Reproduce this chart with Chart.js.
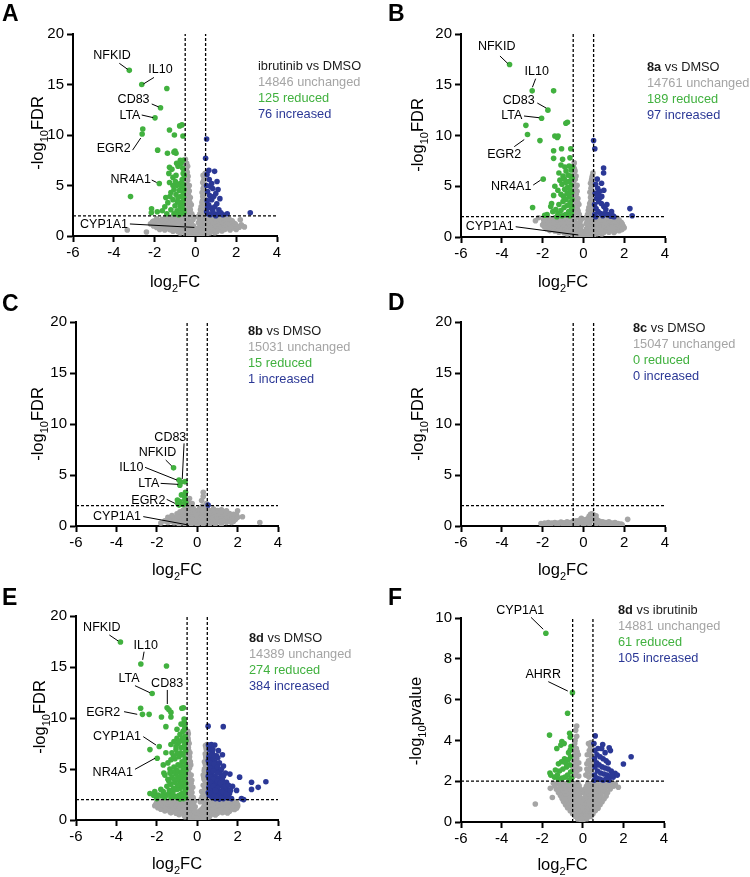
<!DOCTYPE html>
<html>
<head>
<meta charset="utf-8">
<script src="https://cdn.jsdelivr.net/npm/chart.js@4.4.0/dist/chart.umd.min.js"></script>
<style>
  body { margin: 0; background: #fff; width: 750px; height: 877px; position: relative; overflow: hidden; }
  canvas { position: absolute; }
</style>
</head>
<body>
<canvas id="pA" width="375" height="295" style="left:0;top:0"></canvas>
<canvas id="pB" width="375" height="295" style="left:375px;top:0"></canvas>
<canvas id="pC" width="375" height="295" style="left:0;top:290px"></canvas>
<canvas id="pD" width="375" height="295" style="left:375px;top:290px"></canvas>
<canvas id="pE" width="375" height="297" style="left:0;top:580px"></canvas>
<canvas id="pF" width="375" height="297" style="left:375px;top:580px"></canvas>
<script>
// ---- data ----
const panelIds = ['A', 'B', 'C', 'D', 'E', 'F'];
const treatment = ['ibrutinib', '8a', '8b', '8c', '8d', '8d'];
const boldTreatment = [false, true, true, true, true, true];
const control = ['DMSO', 'DMSO', 'DMSO', 'DMSO', 'DMSO', 'ibrutinib'];
const unchangedN = [14846, 14761, 15031, 15047, 14389, 14881];
const reducedN = [125, 189, 15, 0, 274, 61];
const increasedN = [76, 97, 1, 0, 384, 105];
const yMetric = ['FDR', 'FDR', 'FDR', 'FDR', 'FDR', 'pvalue'];
const yMax = [20, 20, 20, 20, 20, 10];
const yStep = [5, 5, 5, 5, 5, 2];
const xRange = [-6, 4];
const xStep = 2;
const fcCut = 0.5;   // |log2FC| threshold
const sigCut = 2;    // -log10 threshold

// points: flat lists of log2FC, -log10 value pairs
const grayA = [-0.45,0.15,-0.25,0.12,-0.05,0.1,0.15,0.12,0.35,0.16,0.55,0.2,
  -0.75,0.3,-0.5,0.28,-0.3,0.32,-0.1,0.27,0.05,0.3,0.25,0.28,0.45,0.31,0.7,0.29,0.95,0.33,
  -1.1,0.48,-0.85,0.42,-0.6,0.46,-0.35,0.4,-0.12,0.44,0.1,0.38,0.3,0.45,0.55,0.42,0.8,0.47,1.05,0.43,1.3,0.5,
  -1.75,0.65,-1.5,0.6,-1.25,0.63,-1.0,0.59,-0.75,0.64,-0.5,0.6,-0.25,0.62,0.0,0.58,0.22,0.63,0.45,0.6,0.7,0.64,0.95,0.6,1.2,0.62,1.45,0.66,1.7,0.6,2.0,0.65,
  -1.9,0.85,-1.6,0.78,-1.35,0.82,-1.1,0.76,-0.85,0.84,-0.6,0.79,-0.38,0.83,-0.18,0.77,0.15,0.8,0.35,0.76,0.6,0.84,0.85,0.79,1.1,0.82,1.35,0.77,1.6,0.83,1.9,0.8,2.15,0.86,
  -2.05,1.0,-1.8,0.96,-1.55,1.0,-1.25,0.97,-1.0,1.01,-0.75,0.96,-0.55,1.0,-0.35,0.98,0.25,0.97,0.48,1.01,0.72,0.96,0.98,1.0,1.22,0.97,1.5,1.01,1.75,0.98,2.05,0.95,
  -2.2,1.2,-1.95,1.12,-1.7,1.17,-1.45,1.13,-1.2,1.18,-0.95,1.12,-0.72,1.16,-0.5,1.14,-0.3,1.2,0.28,1.15,0.5,1.12,0.72,1.18,0.95,1.13,1.2,1.17,1.45,1.12,1.7,1.16,1.95,1.2,2.25,1.1,
  -2.1,1.33,-1.85,1.3,-1.6,1.35,-1.35,1.3,-1.1,1.34,-0.85,1.31,-0.62,1.35,-0.4,1.3,0.35,1.32,0.6,1.3,0.85,1.35,1.1,1.31,1.35,1.34,1.6,1.3,1.85,1.33,
  -2.05,1.48,-1.8,1.52,-1.55,1.46,-1.3,1.53,-1.05,1.47,-0.82,1.52,-0.6,1.49,-0.42,1.55,0.38,1.5,0.6,1.47,0.82,1.53,1.05,1.48,1.3,1.52,1.55,1.46,1.8,1.5,
  -1.9,1.7,-1.65,1.66,-1.4,1.7,-1.15,1.67,-0.9,1.71,-0.7,1.66,-0.5,1.7,-0.38,1.75,0.38,1.68,0.5,1.72,0.72,1.67,0.95,1.7,1.2,1.66,1.45,1.7,1.65,1.68,
  -1.45,1.82,-1.2,1.88,-0.95,1.84,-0.75,1.9,-0.55,1.86,-0.4,1.92,0.4,1.85,0.62,1.9,0.85,1.83,1.1,1.88,1.35,1.84,
  -0.48,2.3,-0.3,2.4,-0.18,2.2,-0.45,2.8,-0.28,2.9,-0.46,3.4,-0.32,3.5,-0.2,3.1,-0.47,4.0,-0.34,4.1,-0.25,3.8,-0.46,4.6,-0.36,4.8,-0.48,5.3,-0.38,5.5,-0.3,5.0,-0.47,6.0,-0.4,6.3,-0.48,6.8,-0.43,7.2,-0.49,7.6,-0.12,1.6,-0.2,1.4,-0.1,1.0,
  -0.4,2.55,-0.25,2.6,-0.4,3.15,-0.27,3.3,-0.4,3.75,-0.42,4.3,-0.3,4.45,-0.42,5.0,-0.44,5.7,-0.36,5.9,-0.44,6.5,-0.46,7.0,-0.38,6.9,-0.15,2.0,-0.1,1.8,
  0.2,1.6,0.15,1.3,0.3,2.2,0.42,2.3,0.25,2.6,0.38,2.8,0.47,3.1,0.32,3.3,0.45,3.7,0.36,3.9,0.44,4.4,0.38,4.7,0.46,5.1,0.41,5.5,0.45,6.0,0.48,6.2,0.28,2.9,
  0.36,2.45,0.22,2.2,0.42,2.95,0.35,3.5,0.4,4.1,0.33,4.3,0.42,4.9,0.36,5.3,0.43,5.75,0.38,6.0,0.2,1.9,0.12,1.9,
  -3.34,0.6,2.2,1.6,-2.4,0.4,2.4,0.9,-2.1,1.4];
const greenA = [-3.24,16.4,-2.63,15.0,-1.4,14.6,-1.71,12.7,-1.98,11.7,-2.58,10.6,-2.61,10.1,-1.27,10.5,-0.77,10.9,-0.66,11.0,-1.03,10.0,-0.61,9.9,-1.85,8.5,-1.37,8.2,-1.0,8.4,-0.95,8.2,-1.05,8.3,-1.27,6.8,-0.74,7.5,-1.77,5.2,-3.18,3.9,-2.15,2.7,-2.16,2.3,-1.87,2.4,-1.45,3.8,-1.27,5.3,
  -1.3,6.2,-1.15,6.6,-1.1,5.8,-0.95,6.0,-0.85,6.9,-0.7,7.2,-0.62,6.7,-0.6,6.2,-0.65,5.6,-0.75,5.2,-0.9,5.0,-1.05,4.6,-1.2,4.3,-1.35,3.3,-1.1,3.6,-0.95,4.1,-0.8,4.5,-0.68,4.9,-0.58,5.1,-0.6,4.3,-0.72,3.9,-0.88,3.4,-1.0,3.0,-1.2,2.6,-1.4,2.2,-0.9,2.5,-0.75,2.9,-0.62,3.4,-0.57,2.6,-0.7,2.2,-0.82,2.1,-1.05,2.2,-0.6,7.5,-0.55,6.0,-0.56,4.6,-0.58,3.8,-0.65,3.0,-0.78,3.3,-0.85,3.8,-0.98,5.4,-1.1,5.0,-1.25,3.9,-1.5,2.9,-1.62,2.5,-0.57,2.3,-0.67,2.5,-0.92,7.2];
const blueA = [0.55,9.6,0.5,7.7,0.66,6.5,0.94,6.4,1.06,5.4,1.11,4.6,0.74,4.9,1.56,2.2,2.69,2.3,0.55,5.0,0.6,4.4,0.7,4.0,0.8,3.6,0.9,3.9,1.0,4.2,0.58,3.5,0.65,3.1,0.75,2.8,0.85,2.5,0.95,2.9,1.05,3.2,1.15,2.6,0.55,2.4,0.62,2.2,0.72,2.1,0.9,2.2,1.0,2.0,1.25,2.3,0.68,5.6,0.8,5.2,0.57,6.1,1.2,3.7,0.85,4.7,0.6,2.8,1.1,2.2,1.35,2.1];

const grayB = [-0.5,0.14,-0.3,0.1,-0.1,0.08,0.1,0.1,0.3,0.13,0.5,0.18,
  -0.8,0.3,-0.55,0.27,-0.35,0.31,-0.15,0.28,0.05,0.26,0.2,0.3,0.4,0.29,0.65,0.32,0.9,0.3,
  -1.2,0.47,-0.95,0.43,-0.7,0.46,-0.45,0.41,-0.2,0.44,0.05,0.4,0.25,0.46,0.5,0.42,0.75,0.47,1.0,0.44,1.25,0.48,1.5,0.45,
  -1.65,0.63,-1.4,0.6,-1.15,0.64,-0.9,0.6,-0.65,0.63,-0.4,0.59,-0.15,0.62,0.1,0.6,0.32,0.64,0.55,0.6,0.8,0.63,1.05,0.59,1.3,0.64,1.55,0.6,1.75,0.62,
  -1.8,0.82,-1.55,0.78,-1.3,0.83,-1.05,0.77,-0.8,0.81,-0.55,0.78,-0.35,0.84,-0.15,0.78,0.15,0.8,0.35,0.77,0.58,0.83,0.8,0.78,1.05,0.82,1.3,0.77,1.55,0.83,1.88,0.72,
  -1.9,0.98,-1.65,0.95,-1.4,1.0,-1.15,0.96,-0.9,1.0,-0.68,0.97,-0.45,1.0,-0.25,0.96,0.22,0.98,0.45,0.95,0.68,1.0,0.92,0.96,1.15,1.0,1.4,0.96,1.65,0.99,1.9,0.95,
  -2.0,1.18,-1.75,1.12,-1.5,1.17,-1.25,1.13,-1.0,1.18,-0.78,1.12,-0.55,1.16,-0.32,1.14,0.3,1.15,0.52,1.12,0.75,1.18,1.0,1.13,1.25,1.17,1.5,1.12,1.75,1.16,1.95,1.08,
  -1.95,1.33,-1.7,1.3,-1.45,1.35,-1.2,1.3,-0.95,1.34,-0.7,1.31,-0.45,1.35,0.35,1.32,0.6,1.3,0.85,1.35,1.1,1.3,1.35,1.34,1.6,1.3,1.85,1.28,
  -1.85,1.5,-1.6,1.46,-1.35,1.53,-1.1,1.47,-0.88,1.52,-0.65,1.48,-0.45,1.54,0.4,1.5,0.62,1.46,0.85,1.52,1.1,1.47,1.35,1.53,1.6,1.48,1.85,1.45,
  -1.95,1.7,-1.75,1.66,-1.5,1.7,-1.25,1.67,-1.0,1.71,-0.78,1.66,-0.58,1.7,-0.42,1.72,0.4,1.68,0.55,1.72,0.78,1.67,1.0,1.7,1.25,1.66,1.5,1.7,1.75,1.66,
  -1.65,1.84,-1.4,1.88,-1.15,1.83,-0.9,1.9,-0.7,1.85,-0.52,1.9,-0.4,1.84,0.42,1.86,0.65,1.9,0.9,1.84,1.15,1.88,1.4,1.83,1.65,1.87,
  -0.47,2.3,-0.32,2.4,-0.2,2.2,-0.44,2.9,-0.3,2.8,-0.47,3.4,-0.34,3.6,-0.22,3.2,-0.46,4.1,-0.35,4.2,-0.27,3.8,-0.47,4.7,-0.38,4.9,-0.48,5.4,-0.4,5.7,-0.31,5.1,-0.46,6.1,-0.41,6.5,-0.48,6.9,-0.45,7.3,-0.14,1.6,-0.22,1.4,-0.1,1.1,
  -0.4,2.6,-0.26,2.55,-0.4,3.1,-0.28,3.4,-0.4,3.85,-0.42,4.4,-0.31,4.5,-0.42,5.05,-0.44,5.9,-0.36,6.0,-0.44,6.7,-0.16,1.95,-0.1,1.75,
  0.18,1.6,0.14,1.3,0.28,2.2,0.43,2.3,0.24,2.6,0.37,2.8,0.47,3.1,0.31,3.3,0.45,3.7,0.35,3.9,0.44,4.4,0.37,4.8,0.46,5.2,0.4,5.6,0.44,6.0,0.47,6.3,0.27,2.9,
  0.36,2.5,0.2,2.2,0.42,2.95,0.36,3.5,0.4,4.15,0.32,4.4,0.41,5.0,0.35,5.3,0.42,5.8,0.2,1.9,0.12,1.9,
  -2.2,1.9,1.9,1.3,-2.35,1.6,2.0,0.9];
const greenB = [-3.62,17.0,-2.51,14.4,-1.46,14.4,-1.74,12.5,-2.05,11.7,-2.82,11.0,-2.74,10.1,-2.13,9.5,-0.78,11.3,-0.86,11.2,-1.4,9.95,-1.24,9.95,-1.28,9.8,-0.62,8.7,-1.07,8.7,-1.46,8.5,-1.46,7.75,-1.02,7.65,-1.1,7.1,-0.91,6.9,-0.66,7.8,-1.97,5.7,-2.49,2.9,-1.78,2.2,-1.9,2.15,-1.56,3.3,-1.46,4.1,-1.4,5.0,
  -1.2,6.3,-1.0,6.0,-0.85,6.5,-0.7,7.0,-0.6,6.6,-0.62,6.0,-0.7,5.5,-0.85,5.4,-1.05,5.2,-1.25,4.6,-1.1,4.2,-0.92,4.7,-0.78,4.9,-0.6,5.1,-0.58,4.4,-0.7,4.0,-0.85,3.7,-1.0,3.5,-1.2,3.2,-1.35,2.7,-1.1,2.6,-0.95,2.9,-0.8,3.1,-0.65,3.4,-0.57,3.0,-0.6,2.4,-0.72,2.5,-0.88,2.2,-1.05,2.1,-1.25,2.3,-1.5,2.5,-0.56,5.8,-0.56,3.7,-0.66,2.1,-0.75,6.1,-0.93,5.7,-1.15,5.6,-0.8,4.3,-0.98,4.0,-0.66,4.6,-0.55,6.9,-0.58,2.7,-1.6,3.0,-1.3,2.0];
const blueB = [0.5,9.5,0.56,8.7,0.99,6.8,0.99,6.3,0.68,5.7,0.89,5.3,0.6,5.2,0.7,4.8,0.8,4.5,0.9,4.0,1.0,4.6,0.58,4.3,0.65,3.8,0.75,3.5,0.88,3.3,1.0,3.0,1.1,2.7,0.55,3.2,0.62,2.8,0.72,2.5,0.85,2.3,0.95,2.1,1.05,2.3,1.2,2.2,1.35,2.05,1.45,2.1,0.56,2.2,0.6,2.0,1.15,3.2,0.82,3.9,0.7,4.1,1.5,2.0,2.28,2.8,2.39,2.1,1.38,2.5];

const grayC = [-0.9,0.2,-0.6,0.18,-0.3,0.22,0.0,0.15,0.3,0.2,0.6,0.18,0.9,0.22,1.2,0.2,
  -1.45,0.35,-1.15,0.33,-0.85,0.37,-0.6,0.34,-0.35,0.36,-0.15,0.32,0.05,0.35,0.25,0.33,0.45,0.37,0.7,0.34,0.95,0.36,1.2,0.33,1.45,0.36,1.7,0.34,
  -1.6,0.5,-1.3,0.48,-1.0,0.52,-0.75,0.47,-0.5,0.53,-0.25,0.48,-0.05,0.5,0.15,0.55,0.35,0.48,0.55,0.52,0.8,0.47,1.05,0.53,1.3,0.48,1.55,0.52,1.8,0.47,
  -1.3,0.7,-1.05,0.66,-0.8,0.7,-0.55,0.67,-0.35,0.71,-0.1,0.68,0.2,0.7,0.42,0.66,0.65,0.7,0.9,0.67,1.15,0.71,1.4,0.68,1.65,0.7,1.9,0.66,
  -1.45,0.85,-1.15,0.82,-0.9,0.88,-0.65,0.83,-0.45,0.87,-0.2,0.84,0.1,0.9,0.3,0.85,0.5,0.88,0.75,0.83,1.0,0.87,1.25,0.84,1.5,0.88,1.75,0.82,2.0,0.86,2.24,0.9,
  -1.25,1.03,-0.95,1.0,-0.7,1.04,-0.45,1.0,-0.25,1.05,0.0,1.02,0.22,1.04,0.45,1.0,0.7,1.05,0.95,1.01,1.2,1.04,1.45,1.0,1.7,1.03,1.95,1.1,
  -1.0,1.2,-0.75,1.17,-0.55,1.23,-0.35,1.18,-0.15,1.22,0.15,1.25,0.35,1.18,0.6,1.22,0.85,1.17,1.1,1.23,1.35,1.18,1.6,1.22,1.8,1.15,
  -0.85,1.38,-0.62,1.36,-0.45,1.4,-0.25,1.37,0.05,1.4,0.3,1.38,0.5,1.41,0.75,1.36,1.2,1.38,
  -0.7,1.55,-0.5,1.52,-0.35,1.58,-0.1,1.54,0.2,1.6,0.4,1.55,0.65,1.5,1.0,1.52,1.45,1.5,
  -0.55,1.72,-0.4,1.7,-0.2,1.75,0.12,1.72,0.32,1.74,0.5,1.7,0.8,1.68,
  -0.45,1.9,-0.3,1.88,0.25,1.95,0.42,1.9,
  -0.45,2.4,-0.38,2.7,0.3,3.3,0.3,2.9,0.22,2.5,0.45,2.2,-0.25,2.2,
  -1.8,0.3,3.1,0.35,2.0,1.5,1.2,1.6];
const greenC = [-1.17,5.7,-0.9,4.5,-0.82,4.3,-0.6,4.35,-0.86,4.0,-0.58,3.3,-0.78,3.05,-0.62,2.9,-0.98,2.55,-0.86,2.4,-0.62,2.55,-0.57,2.3,-0.96,2.2,-0.7,2.1,-0.9,2.05];
const blueC = [0.54,2.06];

const grayD = [-2.08,0.25,-1.9,0.3,-1.72,0.35,-1.55,0.28,-1.4,0.35,-1.25,0.3,-1.1,0.38,-0.95,0.32,-0.8,0.4,-0.65,0.35,-0.5,0.45,-0.35,0.5,-0.2,0.55,-0.1,0.75,0.0,0.4,0.1,0.5,0.2,0.7,0.28,0.95,0.35,1.15,0.42,1.2,0.5,1.1,0.55,0.9,0.62,0.7,0.7,0.55,0.8,0.45,0.95,0.4,1.1,0.35,1.25,0.4,1.4,0.3,1.55,0.35,1.7,0.25,1.85,0.2,2.17,0.65,
  -1.8,0.1,-1.3,0.12,-0.9,0.15,-0.6,0.15,-0.3,0.2,0.0,0.1,0.3,0.2,0.6,0.2,0.9,0.15,1.2,0.12,1.5,0.1,-1.0,0.2,0.4,0.6,0.3,0.45,0.5,0.7,0.45,0.9,-0.45,0.25,1.0,0.25,1.75,0.15,
  -1.6,0.2,-1.2,0.25,-0.75,0.28,-0.4,0.35,-0.15,0.35,0.1,0.3,0.25,0.55,0.38,0.8,0.55,0.5,0.75,0.3,1.05,0.28,1.35,0.22,1.6,0.25,-2.0,0.12,1.9,0.12,0.05,0.6,-0.25,0.4,0.62,1.0];
const greenD = [];
const blueD = [];

const grayE = [-0.35,0.15,-0.15,0.1,0.05,0.12,0.25,0.1,0.45,0.16,
  -0.6,0.32,-0.4,0.28,-0.2,0.31,0.0,0.27,0.2,0.3,0.4,0.28,0.6,0.31,
  -0.9,0.52,-0.65,0.46,-0.4,0.5,-0.15,0.45,0.15,0.48,0.4,0.52,0.65,0.47,0.9,0.5,
  -1.3,0.7,-1.05,0.66,-0.8,0.7,-0.55,0.67,-0.3,0.71,-0.05,0.68,0.25,0.7,0.5,0.66,0.75,0.7,1.0,0.67,1.25,0.71,1.5,0.68,
  -1.6,0.88,-1.35,0.82,-1.1,0.86,-0.85,0.83,-0.6,0.87,-0.35,0.82,-0.12,0.85,0.12,0.88,0.35,0.83,0.6,0.86,0.85,0.82,1.1,0.87,1.35,0.83,1.6,0.86,
  -1.8,1.05,-1.55,1.0,-1.3,1.04,-1.05,1.0,-0.8,1.05,-0.55,1.01,-0.35,1.04,0.22,1.02,0.45,1.05,0.68,1.0,0.9,1.04,1.15,1.0,1.4,1.05,1.65,1.01,1.85,1.04,
  -1.95,1.2,-1.7,1.17,-1.45,1.23,-1.2,1.18,-0.95,1.22,-0.72,1.17,-0.5,1.21,-0.3,1.18,0.3,1.2,0.5,1.17,0.72,1.23,0.95,1.18,1.2,1.22,1.45,1.17,1.7,1.21,1.95,1.15,
  -2.1,1.4,-1.85,1.36,-1.6,1.4,-1.35,1.37,-1.1,1.41,-0.88,1.36,-0.65,1.4,-0.45,1.38,0.35,1.39,0.55,1.36,0.78,1.41,1.0,1.37,1.25,1.4,1.5,1.36,1.75,1.4,2.0,1.35,
  -2.05,1.55,-1.8,1.52,-1.55,1.58,-1.3,1.53,-1.05,1.57,-0.82,1.52,-0.6,1.56,-0.42,1.53,0.38,1.57,0.6,1.52,0.82,1.56,1.05,1.53,1.3,1.58,1.55,1.52,1.8,1.55,2.0,1.5,
  -2.0,1.74,-1.75,1.7,-1.5,1.73,-1.25,1.7,-1.0,1.74,-0.8,1.7,-0.6,1.72,-0.45,1.76,0.4,1.72,0.55,1.74,0.78,1.7,1.0,1.74,1.25,1.7,1.5,1.73,1.75,1.7,1.95,1.72,
  -1.9,1.85,-1.65,1.88,-1.4,1.83,-1.15,1.9,-0.9,1.86,-0.7,1.9,-0.52,1.84,-0.4,1.88,0.42,1.85,0.65,1.9,0.9,1.84,1.15,1.88,1.4,1.83,1.65,1.87,1.85,1.82,
  -0.48,2.3,-0.32,2.4,-0.2,2.2,-0.45,2.9,-0.3,3.0,-0.47,3.5,-0.35,3.6,-0.22,3.2,-0.47,4.2,-0.36,4.3,-0.27,3.9,-0.46,4.9,-0.38,5.1,-0.48,5.6,-0.4,5.9,-0.32,5.4,-0.47,6.4,-0.42,6.8,-0.48,7.3,-0.44,7.7,-0.48,8.2,-0.47,8.7,-0.15,1.8,-0.1,1.3,-0.2,1.6,-0.38,6.2,-0.42,4.6,
  -0.4,2.65,-0.26,2.7,-0.4,3.25,-0.3,3.6,-0.4,3.9,-0.3,4.4,-0.42,5.3,-0.34,5.7,-0.44,6.0,-0.36,6.6,-0.44,7.1,-0.4,7.5,-0.45,7.95,-0.44,8.45,-0.2,2.0,
  0.15,1.8,0.25,2.3,0.4,2.3,0.22,2.8,0.35,2.9,0.47,3.0,0.3,3.4,0.45,3.6,0.34,4.0,0.46,4.3,0.38,4.7,0.47,5.1,0.4,5.5,0.46,5.9,0.42,6.3,0.47,6.7,0.44,7.1,0.48,7.4,0.3,4.4,0.36,5.0,
  0.35,2.6,0.2,2.05,0.42,2.75,0.38,3.25,0.4,3.8,0.33,4.2,0.42,4.55,0.35,4.8,0.42,5.3,0.36,5.7,0.43,6.1,0.4,6.5,0.45,6.9,0.41,7.3];
const greenE = [-3.8,17.45,-2.79,15.3,-1.52,15.1,-2.23,12.4,-1.49,11.0,-1.4,10.8,-1.3,10.55,-0.76,10.95,-0.68,11.0,-2.8,10.95,-2.71,10.36,-2.38,10.36,-1.77,10.1,-1.3,10.1,-0.64,9.6,-0.61,9.15,-1.55,9.15,-1.88,7.2,-2.34,6.9,-1.98,6.05,-1.68,5.4,-1.65,4.6,-2.34,2.6,-2.1,2.78,-1.93,2.45,-1.68,2.78,-1.52,2.45,
  -1.0,8.0,-0.85,8.4,-0.7,8.7,-0.6,8.2,-0.75,7.8,-0.95,7.5,-1.15,7.7,-1.3,7.4,-0.62,7.4,-0.8,7.1,-1.05,6.9,-1.25,6.6,-0.57,6.8,-0.7,6.4,-0.9,6.2,-1.1,6.0,-1.3,5.9,-0.6,6.0,-0.75,5.7,-0.95,5.4,-1.15,5.2,-1.35,5.0,-0.58,5.3,-0.68,4.9,-0.85,4.7,-1.05,4.5,-1.25,4.2,-1.45,4.0,-0.6,4.4,-0.72,4.1,-0.9,3.9,-1.1,3.7,-1.3,3.5,-0.57,3.6,-0.7,3.3,-0.85,3.1,-1.0,3.0,-1.2,2.8,-1.4,2.6,-0.6,2.9,-0.75,2.6,-0.92,2.4,-1.1,2.3,-1.3,2.2,-0.58,2.2,-0.68,2.1,-0.85,2.05,-1.6,2.2,-1.75,2.35,-2.0,2.1,-2.15,2.4,-0.65,9.9,-0.8,9.4,-1.0,8.9,-0.55,7.8,-1.55,6.6,-1.45,5.6,-1.6,4.4,-1.5,3.3,-1.8,3.0,-0.56,4.9,-0.56,3.1,
  -0.62,8.9,-0.72,8.0,-0.88,7.7,-1.05,7.2,-0.65,7.1,-0.82,6.6,-0.98,6.5,-1.18,6.3,-0.64,5.7,-0.82,5.3,-1.02,4.9,-1.2,4.7,-0.66,4.6,-0.78,4.4,-0.95,4.2,-1.15,4.0,-0.62,3.9,-0.8,3.6,-0.98,3.4,-1.18,3.1,-0.65,2.6,-0.82,2.5,-1.0,2.2,-1.2,2.5,-1.38,2.9,-1.4,3.8,-1.35,4.6];
const blueE = [0.54,9.2,1.29,9.15,0.56,7.35,0.7,7.4,0.87,7.35,1.05,6.8,1.25,6.4,0.6,6.9,0.75,6.6,0.95,6.3,0.58,6.2,0.7,5.9,0.88,5.7,1.1,5.6,1.3,5.3,0.6,5.5,0.75,5.2,0.95,5.0,1.15,4.8,1.4,4.6,0.58,4.8,0.7,4.5,0.85,4.3,1.05,4.1,1.25,3.9,1.45,3.7,0.6,4.0,0.72,3.7,0.9,3.5,1.1,3.3,1.3,3.1,1.5,2.9,0.58,3.2,0.7,2.9,0.85,2.7,1.0,2.5,1.2,2.4,1.4,2.3,1.6,2.6,0.6,2.4,0.75,2.2,0.9,2.1,1.1,2.05,1.3,2.1,1.55,2.15,1.62,4.5,2.1,4.2,2.69,3.7,3.4,3.75,2.69,3.0,3.02,3.2,2.19,2.1,2.3,2.0,1.95,2.9,1.75,3.3,1.7,2.1,0.55,5.8,0.55,4.3,0.55,2.7,0.8,6.1,1.0,5.4,1.2,4.4,0.95,3.9,1.15,2.8,1.35,3.5,0.65,3.4,
  0.62,7.1,0.78,6.9,0.66,6.4,0.85,6.3,1.02,6.1,0.65,5.6,0.82,5.5,1.0,5.2,1.2,5.0,0.64,5.1,0.8,4.8,1.0,4.6,1.3,4.3,0.66,4.2,0.8,4.0,1.0,3.8,1.15,3.6,1.4,3.3,0.65,3.7,0.8,3.3,1.0,3.1,1.25,2.8,0.66,2.6,0.82,2.4,1.0,2.3,1.2,2.15,1.45,2.5,1.65,2.9,1.55,3.4,0.9,2.9];

const grayF = [-1.45,1.9,-1.2,1.88,-1.0,1.92,-0.8,1.87,-0.6,1.91,-0.4,1.88,-0.25,1.93,0.25,1.9,0.4,1.87,0.6,1.92,0.8,1.88,1.0,1.91,1.2,1.87,1.45,1.9,1.6,1.86,
  -1.38,1.76,-1.12,1.73,-0.92,1.77,-0.72,1.74,-0.52,1.77,-0.35,1.74,-0.18,1.78,0.18,1.75,0.35,1.78,0.52,1.74,0.7,1.77,0.9,1.74,1.1,1.77,1.3,1.73,1.52,1.76,
  -1.3,1.6,-1.05,1.57,-0.85,1.62,-0.65,1.58,-0.45,1.61,-0.3,1.57,-0.12,1.6,0.12,1.62,0.3,1.58,0.5,1.61,0.7,1.57,0.9,1.6,1.1,1.58,1.35,1.62,
  -1.2,1.45,-0.98,1.42,-0.78,1.46,-0.58,1.43,-0.4,1.47,-0.22,1.43,-0.05,1.46,0.05,1.44,0.22,1.47,0.4,1.43,0.6,1.46,0.8,1.43,1.0,1.47,1.22,1.44,
  -1.1,1.3,-0.9,1.27,-0.7,1.32,-0.5,1.28,-0.32,1.31,-0.15,1.27,0.15,1.3,0.32,1.28,0.5,1.32,0.7,1.27,0.9,1.31,1.15,1.28,
  -1.02,1.15,-0.82,1.12,-0.62,1.16,-0.44,1.13,-0.25,1.17,-0.08,1.14,0.08,1.16,0.25,1.12,0.44,1.16,0.62,1.13,0.82,1.17,1.05,1.14,
  -0.95,1.0,-0.75,0.98,-0.55,1.02,-0.38,0.97,-0.2,1.01,-0.05,0.98,0.05,1.02,0.2,0.97,0.38,1.01,0.55,0.98,0.75,1.02,0.95,0.99,
  -0.85,0.85,-0.65,0.83,-0.48,0.87,-0.3,0.84,-0.12,0.86,0.12,0.84,0.3,0.87,0.48,0.83,0.65,0.86,0.85,0.84,
  -0.75,0.7,-0.55,0.68,-0.4,0.72,-0.25,0.69,-0.1,0.71,0.1,0.68,0.25,0.72,0.4,0.69,0.55,0.71,0.75,0.68,
  -0.62,0.55,-0.45,0.53,-0.3,0.57,-0.15,0.54,0.0,0.56,0.15,0.53,0.3,0.57,0.45,0.54,0.62,0.56,
  -0.5,0.4,-0.35,0.42,-0.2,0.38,-0.07,0.41,0.07,0.39,0.2,0.42,0.35,0.38,0.5,0.41,
  -0.38,0.28,-0.22,0.26,-0.05,0.3,0.1,0.27,0.25,0.29,0.4,0.27,
  -0.25,0.15,-0.1,0.12,0.05,0.14,0.2,0.16,
  -0.5,2.2,-0.35,2.3,-0.2,2.25,-0.48,2.6,-0.3,2.7,-0.15,2.6,-0.45,3.0,-0.3,3.1,-0.4,3.4,-0.22,3.3,-0.45,3.7,-0.32,3.6,-0.38,4.0,-0.35,4.5,-0.3,4.7,
  -0.42,2.45,-0.28,2.5,-0.38,2.85,-0.2,2.9,-0.36,3.25,-0.42,3.5,-0.28,3.45,-0.4,3.85,-0.3,4.2,
  0.15,2.3,0.3,2.2,0.45,2.3,0.2,2.6,0.38,2.7,0.48,2.9,0.28,3.0,0.42,3.2,0.32,3.5,0.45,3.6,0.28,3.85,0.4,3.9,
  0.25,2.45,0.4,2.55,0.35,2.85,0.2,2.85,0.38,3.35,0.22,3.3,0.38,3.7,
  -2.34,0.88,-1.6,1.65,1.75,1.7,-1.5,1.2];
const greenF = [-1.82,9.25,-0.51,6.34,-0.75,5.33,-1.64,4.26,-0.65,4.35,-0.62,4.15,-1.03,3.94,-1.08,3.77,-0.92,3.85,-1.28,3.6,-0.62,3.53,-0.6,3.2,-0.72,3.05,-0.9,3.1,-1.05,2.95,-1.2,2.85,-0.65,2.8,-0.8,2.7,-0.98,2.6,-1.15,2.5,-1.35,2.55,-1.62,2.4,-1.58,2.3,-0.6,2.45,-0.75,2.3,-0.88,2.2,-1.02,2.15,-1.2,2.1,-1.4,2.2,-0.68,2.05,-0.56,2.15,-0.85,2.9,-1.25,2.3,-0.58,3.7,-0.7,3.4];
const blueF = [0.61,4.22,0.55,3.85,0.98,3.8,0.93,3.6,1.3,3.64,1.36,3.5,2.38,3.2,2.0,2.84,1.59,2.39,0.6,3.5,0.7,3.3,0.85,3.2,1.0,3.1,1.15,3.0,0.58,3.1,0.68,2.9,0.8,2.8,0.95,2.7,1.1,2.65,1.25,2.6,1.4,2.5,0.6,2.7,0.72,2.5,0.88,2.4,1.05,2.35,1.2,2.3,1.35,2.25,1.5,2.2,0.58,2.3,0.7,2.15,0.85,2.1,1.0,2.05,1.15,2.1,1.3,2.05,1.45,2.3,0.75,3.6,1.1,3.4,0.56,2.05,1.7,2.3,1.25,2.9];

const grayPts = [grayA, grayB, grayC, grayD, grayE, grayF];
const greenPts = [greenA, greenB, greenC, greenD, greenE, greenF];
const bluePts = [blueA, blueB, blueC, blueD, blueE, blueF];

// ---- layout (pixels inside each panel canvas) ----
const geo = [
  { L: 73, T: 34, R: 277, B: 236, H: 295, letter: [2, 21], leg: [258, 70], yT: [37, 133], xT: 287 },
  { L: 86, T: 34, R: 290, B: 237, H: 295, letter: [13, 21], leg: [272, 71], yT: [42, 135], xT: 287 },
  { L: 76, T: 32, R: 278, B: 236, H: 295, letter: [2, 21], leg: [248, 45], yT: [37, 134], xT: 285 },
  { L: 86, T: 32, R: 290, B: 236, H: 295, letter: [13, 20], leg: [258, 42], yT: [42, 134], xT: 285 },
  { L: 76, T: 36, R: 278, B: 240, H: 297, letter: [2, 25], leg: [249, 62], yT: [39, 137], xT: 289 },
  { L: 86, T: 38, R: 289, B: 242, H: 297, letter: [13, 25], leg: [243, 34], yT: [40, 141], xT: 290 }
];

// gene labels: text centre and leader line, in data units
const geneLabels = [
  [ { g: 'NFKID', t: [-4.09, 17.9], l: [-3.73, 17.1, -3.32, 16.5] },
    { g: 'IL10', t: [-1.71, 16.5], l: [-2.03, 15.7, -2.55, 15.05] },
    { g: 'CD83', t: [-3.03, 13.5], l: [-2.14, 13.07, -1.8, 12.78] },
    { g: 'LTA', t: [-3.21, 11.9], l: [-2.63, 11.98, -2.07, 11.72] },
    { g: 'EGR2', t: [-4.0, 8.7], l: [-3.08, 8.5, -2.68, 9.7] },
    { g: 'NR4A1', t: [-3.17, 5.6], l: [-2.14, 5.54, -1.9, 5.3] },
    { g: 'CYP1A1', t: [-4.48, 1.1], l: [-3.21, 1.19, -0.05, 0.85] } ],
  [ { g: 'NFKID', t: [-4.25, 18.8], l: [-4.09, 17.83, -3.71, 17.1] },
    { g: 'IL10', t: [-2.29, 16.3], l: [-2.34, 15.6, -2.5, 14.75] },
    { g: 'CD83', t: [-3.17, 13.47], l: [-2.26, 13.2, -1.82, 12.7] },
    { g: 'LTA', t: [-3.51, 11.94], l: [-2.91, 11.92, -2.16, 11.75] },
    { g: 'EGR2', t: [-3.88, 8.1], l: [-3.39, 8.9, -2.9, 9.6] },
    { g: 'NR4A1', t: [-3.54, 5.0], l: [-2.46, 5.12, -2.1, 5.6] },
    { g: 'CYP1A1', t: [-4.59, 0.99], l: [-3.32, 1.01, -0.25, 0.2] } ],
  [ { g: 'CD83', t: [-1.33, 8.63], l: [-0.65, 8.1, -0.74, 4.6] },
    { g: 'NFKID', t: [-1.97, 7.2], l: [-1.56, 6.47, -1.26, 5.88] },
    { g: 'IL10', t: [-3.26, 5.69], l: [-2.58, 5.75, -1.0, 4.5] },
    { g: 'LTA', t: [-2.4, 4.13], l: [-1.81, 4.18, -0.94, 4.08] },
    { g: 'EGR2', t: [-2.42, 2.45], l: [-1.51, 2.61, -1.1, 2.22] },
    { g: 'CYP1A1', t: [-3.97, 0.92], l: [-2.67, 0.92, -0.44, 0.1] } ],
  [],
  [ { g: 'NFKID', t: [-4.72, 18.84], l: [-4.35, 18.14, -3.91, 17.55] },
    { g: 'IL10', t: [-2.55, 17.1], l: [-2.63, 16.5, -2.7, 15.7] },
    { g: 'LTA', t: [-3.37, 13.84], l: [-3.08, 13.17, -2.34, 12.48] },
    { g: 'CD83', t: [-1.49, 13.35], l: [-1.48, 12.75, -1.48, 11.37] },
    { g: 'EGR2', t: [-4.65, 10.57], l: [-3.62, 10.62, -2.97, 10.36] },
    { g: 'CYP1A1', t: [-3.97, 8.19], l: [-2.67, 8.17, -2.04, 7.35] },
    { g: 'NR4A1', t: [-4.18, 4.69], l: [-3.08, 4.97, -2.09, 6.05] } ],
  [ { g: 'CYP1A1', t: [-3.08, 10.37], l: [-2.55, 10.03, -1.95, 9.45] },
    { g: 'AHRR', t: [-1.95, 7.24], l: [-1.7, 6.88, -0.74, 6.42] } ]
];

const GREEN = '#41b13f', BLUE = '#2b3896', GRAY = '#a5a5a5', INK = '#000';
const FONT = '"Liberation Sans", Arial, Helvetica, sans-serif';
Chart.defaults.font.family = FONT;

function pairs(a) {
  const out = [];
  for (let i = 0; i < a.length; i += 2) out.push({ x: a[i], y: a[i + 1] });
  return out;
}

// text with subscript pieces, centred on cx, main baseline at base
function drawParts(ctx, parts, cx, base) {
  const big = '16.5px ' + FONT, small = '11px ' + FONT;
  let w = 0;
  parts.forEach(p => { ctx.font = p[1] ? small : big; w += ctx.measureText(p[0]).width; });
  let x = cx - w / 2;
  ctx.textAlign = 'left';
  ctx.textBaseline = 'alphabetic';
  parts.forEach(p => {
    ctx.font = p[1] ? small : big;
    ctx.fillText(p[0], x, p[1] ? base + 4.5 : base);
    x += ctx.measureText(p[0]).width;
  });
}

const overlay = {
  id: 'overlay',
  afterDraw(chart, args, o) {
    const ctx = chart.ctx, xs = chart.scales.x, ys = chart.scales.y, i = o.idx, g = geo[i];
    ctx.save();
    ctx.fillStyle = INK;
    // panel letter
    ctx.font = 'bold 23px ' + FONT;
    ctx.textAlign = 'left';
    ctx.textBaseline = 'alphabetic';
    ctx.fillText(panelIds[i], g.letter[0], g.letter[1]);

    // gene labels + leader lines
    ctx.font = '12.5px ' + FONT;
    ctx.textAlign = 'center';
    ctx.textBaseline = 'middle';
    ctx.strokeStyle = INK;
    ctx.lineWidth = 1;
    geneLabels[i].forEach(a => {
      ctx.fillText(a.g, xs.getPixelForValue(a.t[0]), ys.getPixelForValue(a.t[1]));
      ctx.beginPath();
      ctx.moveTo(xs.getPixelForValue(a.l[0]), ys.getPixelForValue(a.l[1]));
      ctx.lineTo(xs.getPixelForValue(a.l[2]), ys.getPixelForValue(a.l[3]));
      ctx.stroke();
    });

    // legend block
    const lx = g.leg[0], ly = g.leg[1], step = 16;
    ctx.textAlign = 'left';
    ctx.textBaseline = 'alphabetic';
    ctx.fillStyle = '#1a1a1a';
    ctx.font = (boldTreatment[i] ? 'bold ' : '') + '12.8px ' + FONT;
    ctx.fillText(treatment[i], lx, ly);
    const tw = ctx.measureText(treatment[i]).width;
    ctx.font = '12.8px ' + FONT;
    ctx.fillText(' vs ' + control[i], lx + tw, ly);
    ctx.fillStyle = GRAY;
    ctx.fillText(unchangedN[i] + ' unchanged', lx, ly + step);
    ctx.fillStyle = GREEN;
    ctx.fillText(reducedN[i] + ' reduced', lx, ly + step * 2);
    ctx.fillStyle = BLUE;
    ctx.fillText(increasedN[i] + ' increased', lx, ly + step * 3);

    // axis titles
    ctx.fillStyle = INK;
    const ca = chart.chartArea;
    drawParts(ctx, [['log', 0], ['2', 1], ['FC', 0]], (ca.left + ca.right) / 2, g.xT);
    ctx.translate(g.yT[0], g.yT[1]);
    ctx.rotate(-Math.PI / 2);
    drawParts(ctx, [['-log', 0], ['10', 1], [yMetric[i], 0]], 0, 6);
    ctx.restore();
  }
};

function axis(min, max, step, fit) {
  return {
    type: 'linear', min: min, max: max,
    afterFit: fit,
    ticks: { stepSize: step, autoSkip: false, maxRotation: 0, color: INK, font: { size: 15 }, padding: 3 },
    grid: { drawOnChartArea: false, drawTicks: true, tickLength: 6, tickWidth: 2, tickColor: INK },
    border: { display: true, color: INK, width: 2 }
  };
}

panelIds.forEach((id, i) => {
  const g = geo[i];
  const dash = { type: 'line', borderColor: INK, borderWidth: 1.3, borderDash: [3, 2], pointRadius: 0, fill: false, order: 0 };
  const dots = { pointRadius: 2.8, pointHoverRadius: 2.8, borderWidth: 0 };
  const xAxis = axis(xRange[0], xRange[1], xStep, s => { s.height = g.H - g.B; });
  xAxis.ticks.padding = 2;
  new Chart(document.getElementById('p' + id), {
    type: 'scatter',
    data: {
      datasets: [
        Object.assign({ data: [{ x: -fcCut, y: 0 }, { x: -fcCut, y: yMax[i] }] }, dash),
        Object.assign({ data: [{ x: fcCut, y: 0 }, { x: fcCut, y: yMax[i] }] }, dash),
        Object.assign({ data: [{ x: xRange[0], y: sigCut }, { x: xRange[1], y: sigCut }] }, dash),
        Object.assign({ data: pairs(greenPts[i]), backgroundColor: GREEN, order: 1 }, dots),
        Object.assign({ data: pairs(bluePts[i]), backgroundColor: BLUE, order: 1 }, dots),
        Object.assign({ data: pairs(grayPts[i]), backgroundColor: GRAY, order: 2 }, dots)
      ]
    },
    options: {
      responsive: false,
      animation: false,
      events: [],
      layout: { padding: { left: 0, top: g.T, right: 375 - g.R, bottom: 0 } },
      plugins: { legend: { display: false }, tooltip: { enabled: false }, overlay: { idx: i } },
      scales: {
        x: xAxis,
        y: axis(0, yMax[i], yStep[i], s => { s.width = g.L; })
      }
    },
    plugins: [overlay]
  });
});
</script>
</body>
</html>
